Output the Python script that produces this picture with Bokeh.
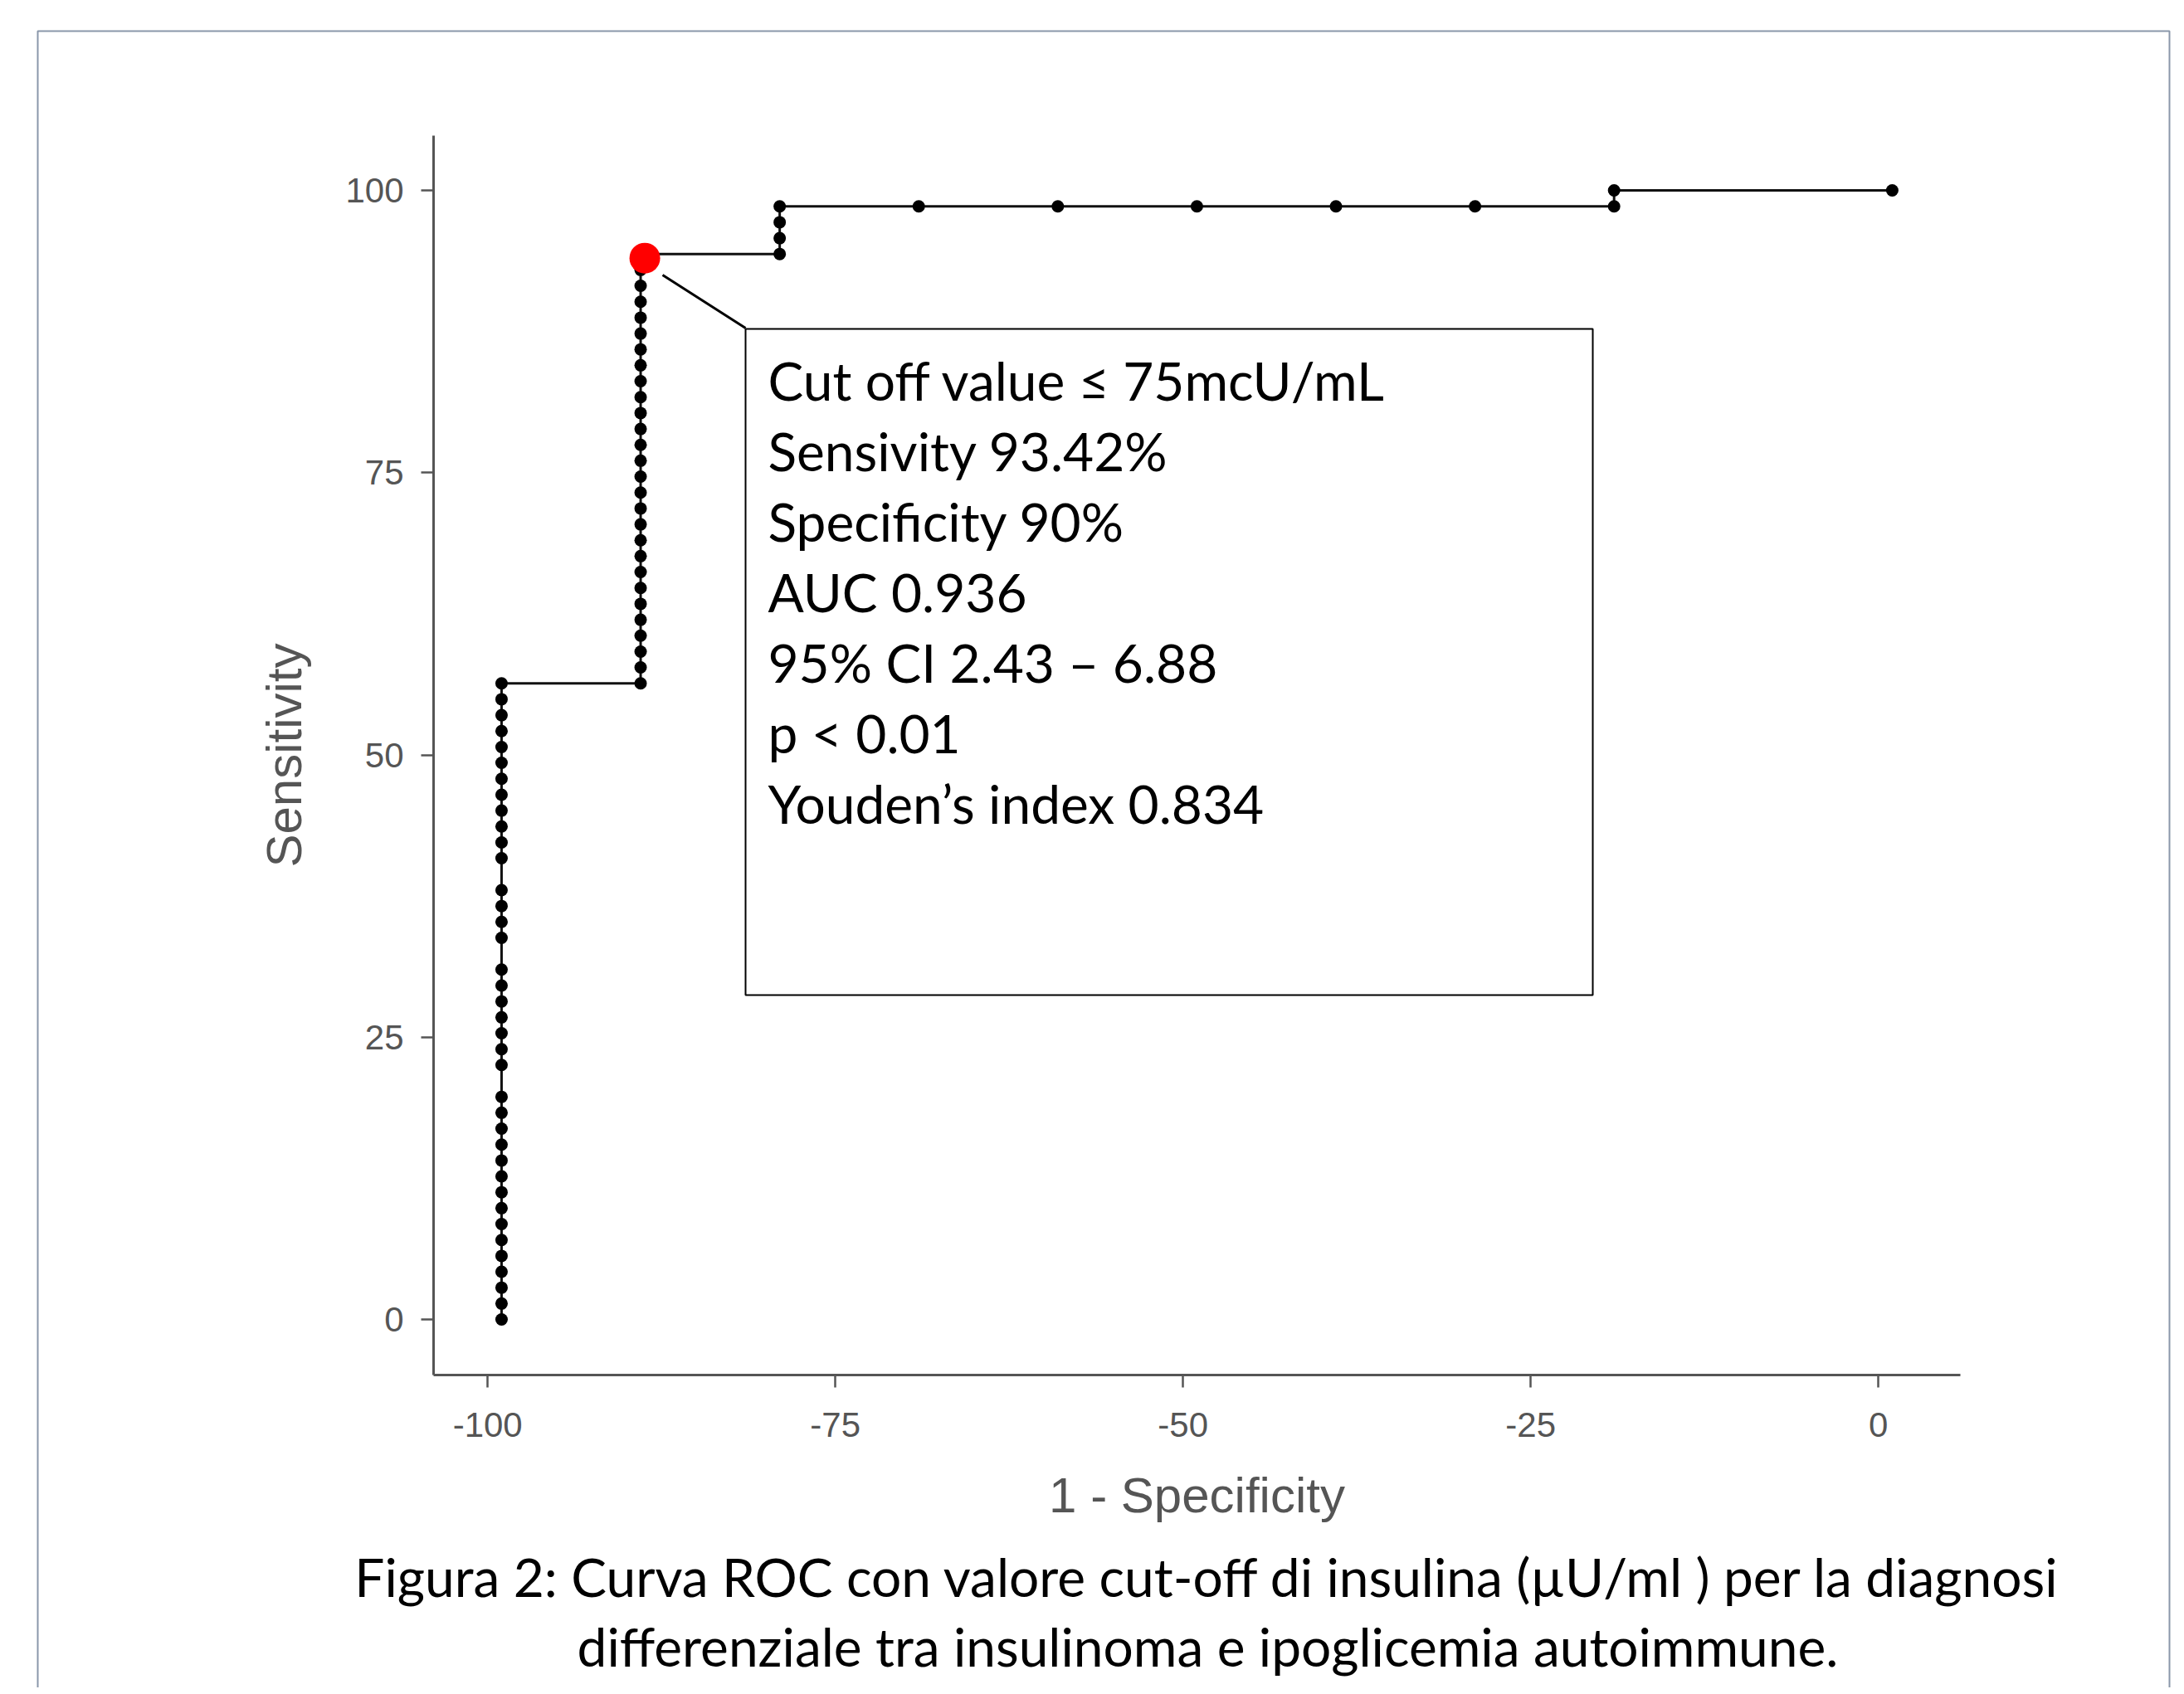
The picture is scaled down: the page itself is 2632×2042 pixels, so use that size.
from bokeh.plotting import figure
from bokeh.models import Range1d, Label, BoxAnnotation, FixedTicker, PrintfTickFormatter
from bokeh.embed import file_html
from bokeh.resources import INLINE

# ---------------- data ----------------
roc_fpr = ([-99] * 38 + [-89] * 28 + [-79] * 4 +
           [-69, -59, -49, -39, -29, -19, -19, 1])
roc_sens = [
    # column at -99
    0.00, 1.41, 2.82, 4.23, 5.63, 7.04, 8.45, 9.86, 11.27, 12.68, 14.08, 15.49,
    16.90, 18.31, 19.72, 22.54, 23.94, 25.35, 26.76, 28.17, 29.58, 30.99,
    33.80, 35.21, 36.62, 38.03, 40.85, 42.25, 43.66, 45.07, 46.48, 47.89,
    49.30, 50.70, 52.11, 53.52, 54.93, 56.34,
    # column at -89
    56.34, 57.75, 59.15, 60.56, 61.97, 63.38, 64.79, 66.20, 67.61, 69.01,
    70.42, 71.83, 73.24, 74.65, 76.06, 77.46, 78.87, 80.28, 81.69, 83.10,
    84.51, 85.92, 87.32, 88.73, 90.14, 91.55, 92.96, 94.37,
    # column at -79
    94.37, 95.77, 97.18, 98.59,
    # top
    98.59, 98.59, 98.59, 98.59, 98.59, 98.59, 100.00, 100.00,
]
cutoff_fpr = [-88.7]
cutoff_sens = [94.0]

x_ticks = [-100, -75, -50, -25, 0]
y_ticks = [0, 25, 50, 75, 100]

box_lines = ["Cut off value \u2264 75mcU/mL", "Sensivity 93.42%", "Specificity 90%",
             "AUC 0.936", "95% CI 2.43 \u2013 6.88", "p < 0.01",
             "Youden\u2019s index 0.834"]
caption_lines = ["Figura 2: Curva ROC con valore cut-off di insulina (\u00b5U/ml ) per la diagnosi",
                 "differenziale tra insulinoma e ipoglicemia autoimmune."]

# ---------------- figure ----------------
# axis extents (data units) and where they sit on the page (pixels)
X0, X1 = -103.89, 5.90
Y0, Y1 = -4.92, 104.85
PL, PR, PT, PB = 522, 2362, 163, 1657
W, H = 2624, 2034

kx = (PR - PL) / (X1 - X0)
ky = (PB - PT) / (Y1 - Y0)
x_range = Range1d(X0 - PL / kx, X0 + (W - PL) / kx)
y_range = Range1d(Y1 - (H - PT) / ky, Y1 + PT / ky)

p = figure(width=W, height=H, output_backend="svg", toolbar_location=None,
           title_location=None, x_range=x_range, y_range=y_range, min_border=0)
p.outline_line_color = None
p.grid.visible = False
p.background_fill_color = "white"
p.border_fill_color = "white"

# page-pixel -> data helpers (for annotation placement only)
def sx(px):
    return x_range.start + px / kx

def sy(py):
    return y_range.end - py / ky

axis_col = "#555555"
for ax in (p.xaxis[0], p.yaxis[0]):
    ax.axis_line_color = axis_col
    ax.axis_line_width = 3
    ax.major_tick_line_color = axis_col
    ax.major_tick_line_width = 2.5
    ax.major_tick_out = 15
    ax.major_tick_in = 0
    ax.minor_tick_line_color = None
    ax.major_label_text_font = "Liberation Sans"
    ax.major_label_text_font_size = "42px"
    ax.major_label_text_color = axis_col
    ax.axis_label_text_font = "Liberation Sans"
    ax.axis_label_text_font_size = "60px"
    ax.axis_label_text_font_style = "normal"
    ax.axis_label_text_color = axis_col
    ax.formatter = PrintfTickFormatter(format="%d")

p.xaxis.fixed_location = Y0
p.yaxis.fixed_location = X0
p.xaxis.bounds = (X0, X1)
p.yaxis.bounds = (Y0, Y1)
p.xaxis.ticker = FixedTicker(ticks=x_ticks)
p.yaxis.ticker = FixedTicker(ticks=y_ticks)
p.xaxis.axis_label = "1 - Specificity"
p.yaxis.axis_label = "Sensitivity"
p.xaxis.major_label_standoff = 30
p.yaxis.major_label_standoff = 21
p.xaxis.axis_label_standoff = 34
p.yaxis.axis_label_standoff = 37

# outer frame
p.add_layout(BoxAnnotation(left=sx(45), right=sx(2614), top=sy(37), bottom=sy(2200),
                           fill_color=None, fill_alpha=0,
                           line_color="#8A97AA", line_width=2, line_alpha=1.0))

# ROC curve
p.line(roc_fpr, roc_sens, line_color="#111111", line_width=3)
p.scatter(roc_fpr, roc_sens, size=15, fill_color="black", line_color=None)
p.scatter(cutoff_fpr, cutoff_sens, size=37, fill_color="#ff0000", line_color=None)

# leader line + info box
p.segment(x0=[sx(798)], y0=[sy(331)], x1=[sx(898)], y1=[sy(395)],
          line_color="black", line_width=3)
p.add_layout(BoxAnnotation(left=sx(898), right=sx(1919), top=sy(396), bottom=sy(1199),
                           fill_color="white", fill_alpha=1.0,
                           line_color="black", line_width=2, line_alpha=1.0))
for i, t in enumerate(box_lines):
    p.add_layout(Label(x=sx(925), y=sy(458 + 85 * i), text=t,
                       text_font="Lato", text_font_size="64px",
                       text_color="black", text_baseline="alphabetic", text_align="left"))

# caption
for i, t in enumerate(caption_lines):
    p.add_layout(Label(x=sx(1455), y=sy(1900 + 84 * i), text=t,
                       text_font="Lato", text_font_size="64px",
                       text_color="black", text_baseline="alphabetic", text_align="center"))

open("out.html", "w").write(file_html(p, INLINE))
